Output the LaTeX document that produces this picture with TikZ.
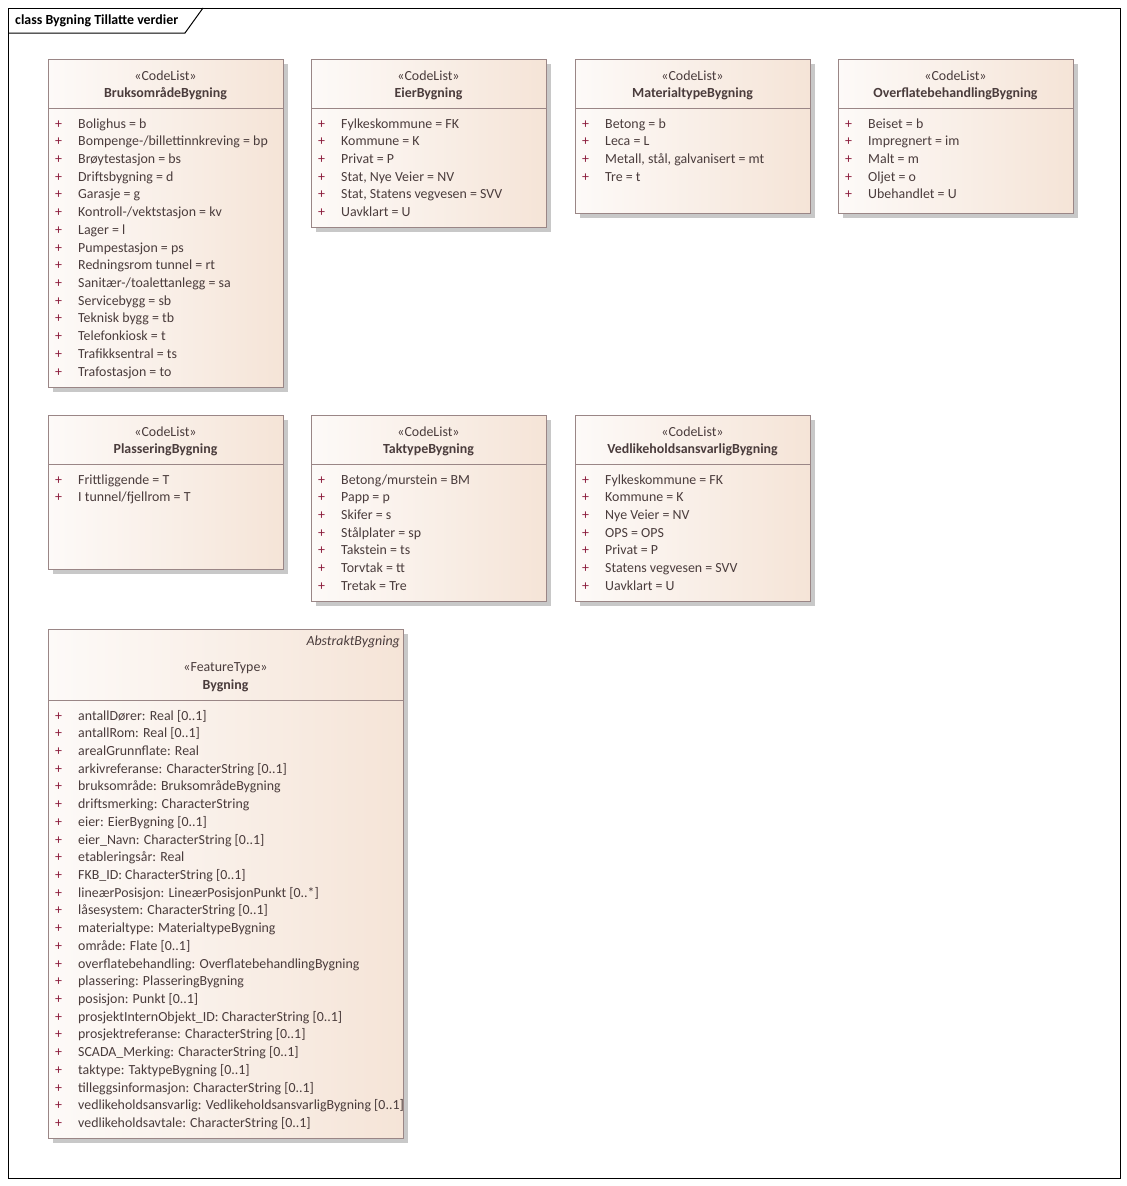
\documentclass[tikz,border=0pt]{standalone}
\usepackage{fontspec}
\setmainfont{Carlito}
\usetikzlibrary{calc,shadows,positioning}

\definecolor{boxl}{HTML}{FDFAF8}
\definecolor{boxr}{HTML}{F5E4D7}
\definecolor{boxframe}{HTML}{9A8686}
\definecolor{txtc}{HTML}{4A3C3C}
\definecolor{plusc}{HTML}{8C1C3C}
\definecolor{shadowc}{HTML}{C8C8C8}

\newcommand{\umlfont}{\fontsize{13.9}{16}\selectfont}

\tikzset{
  umlbox/.style={draw=boxframe, line width=1pt, left color=boxl, right color=boxr,
    anchor=north west, inner sep=0pt,
    drop shadow={shadow xshift=4pt, shadow yshift=-4pt, fill=shadowc, opacity=1}},
  boxline/.style={draw=boxframe, line width=1pt},
  stereo/.style={text=txtc, inner sep=0pt},
  cname/.style={text=txtc, font=\umlfont\bfseries, inner sep=0pt},
  attr/.style={text=txtc, anchor=west, inner sep=0pt, text height=9pt, text depth=3pt},
  plus/.style={text=plusc, inner sep=0pt, text height=9pt, text depth=3pt},
}

% box with its header line
\newcommand{\umlbox}[6]{%
  \node[umlbox, minimum width=#4pt, minimum height=#5pt] (#1) at (#2,#3) {};
  \draw[boxline] ($(#1.north west)+(0,#6)$) -- ($(#1.north east)+(0,#6)$);
}
% list of values / attributes
\newcommand{\umlitems}[4]{%
  \foreach \t [count=\i] in {#4} {
    \node[plus] (#1-p\i) at (#2+10.5, #3+17.72*\i-15.72) {+};
    \node[attr] (#1-\i) at (#2+30, #3+17.72*\i-15.72) {\t};
  }
}

\begin{document}
\begin{tikzpicture}[x=1pt,y=-1pt,font=\umlfont]
  \useasboundingbox (0,0) rectangle (1127,1186);

  % frame
  \draw[line width=1pt] (8,8) rectangle (1120,1178);
  \draw[line width=1pt] (8,33) -- (185,33) -- (203,8);
  \node[anchor=west, font=\umlfont\bfseries, inner sep=0pt] (title) at (15,21) {class Bygning Tillatte verdier};

  % BruksomraadeBygning
  \umlbox{bruks}{48}{59}{235}{328}{49}
  \node[stereo] (bruks-st) at (165.5,76) {«CodeList»};
  \node[cname] (bruks-nm) at (165.5,94) {BruksområdeBygning};
  \umlitems{bruks}{48}{123}{Bolighus = b, Bompenge-/billettinnkreving = bp, Brøytestasjon = bs,
    Driftsbygning = d, Garasje = g, Kontroll-/vektstasjon = kv, Lager = l, Pumpestasjon = ps,
    Redningsrom tunnel = rt, Sanitær-/toalettanlegg = sa, Servicebygg = sb, Teknisk bygg = tb,
    Telefonkiosk = t, Trafikksentral = ts, Trafostasjon = to}

  % EierBygning
  \umlbox{eier}{311}{59}{235}{168}{49}
  \node[stereo] (eier-st) at (428.5,76) {«CodeList»};
  \node[cname] (eier-nm) at (428.5,94) {EierBygning};
  \umlitems{eier}{311}{123}{Fylkeskommune = FK, Kommune = K, Privat = P, {Stat, Nye Veier = NV},
    {Stat, Statens vegvesen = SVV}, Uavklart = U}

  % MaterialtypeBygning
  \umlbox{mat}{575}{59}{235}{154}{49}
  \node[stereo] (mat-st) at (692.5,76) {«CodeList»};
  \node[cname] (mat-nm) at (692.5,94) {MaterialtypeBygning};
  \umlitems{mat}{575}{123}{Betong = b, Leca = L, {Metall, stål, galvanisert = mt}, Tre = t}

  % OverflatebehandlingBygning
  \umlbox{ofl}{838}{59}{235}{154}{49}
  \node[stereo] (ofl-st) at (955.5,76) {«CodeList»};
  \node[cname] (ofl-nm) at (955.5,94) {OverflatebehandlingBygning};
  \umlitems{ofl}{838}{123}{Beiset = b, Impregnert = im, Malt = m, Oljet = o, Ubehandlet = U}

  % PlasseringBygning
  \umlbox{plas}{48}{415}{235}{154}{49}
  \node[stereo] (plas-st) at (165.5,432) {«CodeList»};
  \node[cname] (plas-nm) at (165.5,450) {PlasseringBygning};
  \umlitems{plas}{48}{479}{Frittliggende = T, I tunnel/fjellrom = T}

  % TaktypeBygning
  \umlbox{tak}{311}{415}{235}{186}{49}
  \node[stereo] (tak-st) at (428.5,432) {«CodeList»};
  \node[cname] (tak-nm) at (428.5,450) {TaktypeBygning};
  \umlitems{tak}{311}{479}{Betong/murstein = BM, Papp = p, Skifer = s, Stålplater = sp,
    Takstein = ts, Torvtak = tt, Tretak = Tre}

  % VedlikeholdsansvarligBygning
  \umlbox{vedl}{575}{415}{235}{186}{49}
  \node[stereo] (vedl-st) at (692.5,432) {«CodeList»};
  \node[cname] (vedl-nm) at (692.5,450) {VedlikeholdsansvarligBygning};
  \umlitems{vedl}{575}{479}{Fylkeskommune = FK, Kommune = K, Nye Veier = NV, OPS = OPS,
    Privat = P, Statens vegvesen = SVV, Uavklart = U}

  % Bygning
  \umlbox{byg}{48}{629}{355}{509}{71}
  \node[stereo, anchor=east, font=\umlfont\itshape] (byg-abs) at (400,642) {AbstraktBygning};
  \node[stereo] (byg-st) at (225.5,668) {«FeatureType»};
  \node[cname] (byg-nm) at (225.5,686) {Bygning};
  \umlitems{byg}{48}{715}{antallDører: Real [0..1], antallRom: Real [0..1], arealGrunnflate: Real,
    arkivreferanse: CharacterString [0..1], bruksområde: BruksområdeBygning,
    driftsmerking: CharacterString, eier: EierBygning [0..1], eier\_Navn: CharacterString [0..1],
    etableringsår: Real, FKB\_ID: CharacterString [0..1],
    lineærPosisjon: LineærPosisjonPunkt [0..*], låsesystem: CharacterString [0..1],
    materialtype: MaterialtypeBygning, område: Flate [0..1],
    overflatebehandling: OverflatebehandlingBygning, plassering: PlasseringBygning,
    posisjon: Punkt [0..1], prosjektInternObjekt\_ID: CharacterString [0..1],
    prosjektreferanse: CharacterString [0..1], SCADA\_Merking: CharacterString [0..1],
    taktype: TaktypeBygning [0..1], tilleggsinformasjon: CharacterString [0..1],
    vedlikeholdsansvarlig: VedlikeholdsansvarligBygning [0..1],
    vedlikeholdsavtale: CharacterString [0..1]}
\end{tikzpicture}
\end{document}
